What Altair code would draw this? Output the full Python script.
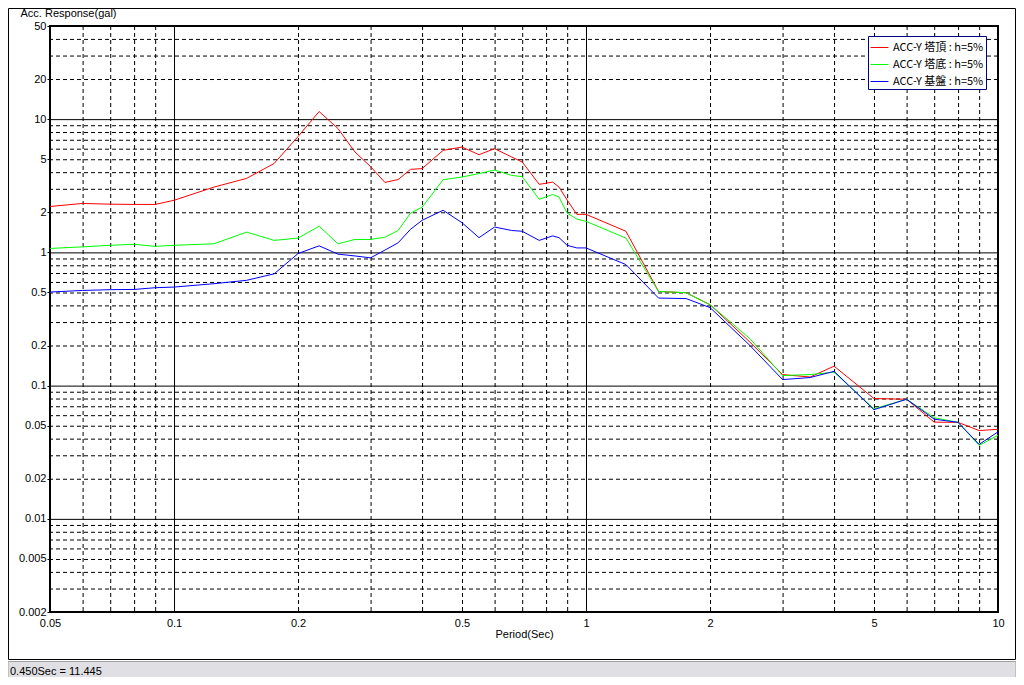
import altair as alt
import pandas as pd

# ---- data ----
period = [0.05, 0.06, 0.07, 0.08, 0.09, 0.1, 0.125, 0.15, 0.175, 0.2,
          0.225, 0.25, 0.275, 0.3, 0.325, 0.35, 0.375, 0.4, 0.45, 0.5,
          0.55, 0.6, 0.66, 0.7, 0.77, 0.83, 0.86, 0.9, 0.95, 1.0,
          1.25, 1.5, 1.75, 2.0, 2.5, 3.0, 3.5, 4.0, 5, 6, 7, 8, 9, 10]
acc_top = [2.21, 2.33, 2.30, 2.29, 2.29, 2.46, 3.09, 3.59, 4.65, 7.4,
           11.4, 8.5, 5.66, 4.4, 3.35, 3.52, 4.2, 4.25, 5.83, 6.17,
           5.41, 6.0, 5.2, 4.77, 3.24, 3.37, 3.09, 2.47, 1.93, 1.93,
           1.44, 0.509, 0.498, 0.405, 0.212, 0.121, 0.116, 0.14, 0.08, 0.079,
           0.0532, 0.053, 0.046, 0.047]
acc_bottom = [1.07, 1.10, 1.13, 1.15, 1.11, 1.13, 1.16, 1.42, 1.23, 1.28,
              1.57, 1.16, 1.25, 1.25, 1.30, 1.46, 1.97, 2.18, 3.51, 3.68,
              3.9, 4.15, 3.78, 3.7, 2.5, 2.72, 2.6, 1.97, 1.78, 1.71,
              1.28, 0.509, 0.498, 0.405, 0.225, 0.119, 0.121, 0.126, 0.067, 0.079,
              0.0574, 0.053, 0.0356, 0.0424]
acc_base = [0.504, 0.518, 0.525, 0.527, 0.543, 0.549, 0.582, 0.617, 0.69, 0.98,
            1.12, 0.97, 0.94, 0.91, 1.04, 1.18, 1.49, 1.74, 2.07, 1.67,
            1.29, 1.55, 1.46, 1.44, 1.23, 1.33, 1.29, 1.13, 1.08, 1.08,
            0.81, 0.454, 0.45, 0.385, 0.2, 0.111, 0.115, 0.128, 0.066, 0.079,
            0.056, 0.053, 0.0362, 0.045]
series_names = ["ACC-Y 塔頂 : h=5%", "ACC-Y 塔底 : h=5%", "ACC-Y 基盤 : h=5%"]
series_colors = ["#ff0000", "#00ff00", "#0000ff"]

x_ticks = [0.05, 0.1, 0.2, 0.5, 1, 2, 5, 10]
y_ticks = [0.002, 0.005, 0.01, 0.02, 0.05, 0.1, 0.2, 0.5, 1, 2, 5, 10, 20, 50]
x_major = [0.1, 1]
x_minor = [0.06, 0.07, 0.08, 0.09, 0.2, 0.3, 0.4, 0.5, 0.6, 0.7, 0.8, 0.9,
           2, 3, 4, 5, 6, 7, 8, 9]
y_major = [0.01, 0.1, 1, 10]
y_minor = [0.003, 0.004, 0.005, 0.006, 0.007, 0.008, 0.009,
           0.02, 0.03, 0.04, 0.05, 0.06, 0.07, 0.08, 0.09,
           0.2, 0.3, 0.4, 0.5, 0.6, 0.7, 0.8, 0.9,
           2, 3, 4, 5, 6, 7, 8, 9, 20, 30, 40]
status_text = "0.450Sec = 11.445"

FONT = "Liberation Sans Narrow, Liberation Sans, Arial"
W, H = 948, 586

xscale = alt.Scale(type="log", domain=[0.05, 10], nice=False)
yscale = alt.Scale(type="log", domain=[0.002, 50], nice=False)

rows = []
for name, vals in zip(series_names, [acc_top, acc_bottom, acc_base]):
    for p, v in zip(period, vals):
        rows.append({"period": p, "acc": v, "series": name})
df = pd.DataFrame(rows)

xaxis = alt.Axis(values=x_ticks, format="~g", grid=False, ticks=False, domain=False,
                 labelFlush=False, labelOverlap=False, labelPadding=5,
                 labelFont=FONT, labelFontSize=11, labelColor="black",
                 title="Period(Sec)", titleFont=FONT, titleFontSize=11,
                 titleFontWeight="normal", titleColor="black",
                 titleBaseline="top", titleY=16)
yaxis = alt.Axis(values=y_ticks, format="~g", grid=False, tickSize=3, tickColor="black",
                 domain=False, labelFlush=False, labelOverlap=False, labelPadding=1,
                 labelFont=FONT, labelFontSize=11, labelColor="black",
                 title="Acc. Response(gal)", titleFont=FONT, titleFontSize=11,
                 titleFontWeight="normal", titleColor="black", titleAngle=0,
                 titleAlign="left", titleBaseline="middle", titleX=-30, titleY=-13)

vminor = alt.Chart(pd.DataFrame({"period": x_minor})).mark_rule(
    color="black", strokeWidth=1, strokeDash=[4, 3], xOffset=0.5).encode(
    x=alt.X("period:Q", scale=xscale, axis=xaxis))
vmajor = alt.Chart(pd.DataFrame({"period": x_major})).mark_rule(
    color="black", strokeWidth=1, xOffset=0.5).encode(x=alt.X("period:Q", scale=xscale))
hminor = alt.Chart(pd.DataFrame({"acc": y_minor})).mark_rule(
    color="black", strokeWidth=1, strokeDash=[4, 3], yOffset=0.5).encode(
    y=alt.Y("acc:Q", scale=yscale, axis=yaxis))
hmajor = alt.Chart(pd.DataFrame({"acc": y_major})).mark_rule(
    color="black", strokeWidth=1, yOffset=0.5).encode(y=alt.Y("acc:Q", scale=yscale))

lines = alt.Chart(df).mark_line(strokeWidth=1).encode(
    x=alt.X("period:Q", scale=xscale),
    y=alt.Y("acc:Q", scale=yscale),
    color=alt.Color("series:N",
                    scale=alt.Scale(domain=series_names, range=series_colors),
                    legend=alt.Legend(orient="none", legendX=818, legendY=10, title=None,
                                      symbolType="stroke", symbolSize=320,
                                      symbolStrokeWidth=1, labelFont="Noto Sans CJK JP",
                                      labelFontSize=11, labelColor="black",
                                      strokeColor="#000080", fillColor="white",
                                      padding=2, rowPadding=2, labelOffset=4,
                                      cornerRadius=0)),
    order=alt.Order("period:Q"),
)

one = pd.DataFrame({"k": [0]})
frame = alt.Chart(one).mark_rect(fill=None, stroke="black", strokeWidth=1).encode(
    x=alt.value(-41.5), x2=alt.value(965.5), y=alt.value(-17.5), y2=alt.value(633.5))
status_bar = alt.Chart(one).mark_rect(fill="#e0dfe3", stroke="#a0a0a0", strokeWidth=1).encode(
    x=alt.value(-42), x2=alt.value(966), y=alt.value(635.5), y2=alt.value(660))
status = alt.Chart(one).mark_text(align="left", baseline="middle", font=FONT,
                                  fontSize=11, color="black").encode(
    x=alt.value(-40), y=alt.value(646), text=alt.value(status_text))

chart = alt.layer(vminor, vmajor, hminor, hmajor, lines, frame, status_bar, status).properties(
    width=W, height=H,
    autosize=alt.AutoSizeParams(type="none"),
    padding={"left": 42, "top": 18, "right": 18, "bottom": 65},
    background="white",
).configure_view(stroke="black", strokeWidth=2)

chart.save("out.html", embed_options={"renderer": "svg", "actions": False})
